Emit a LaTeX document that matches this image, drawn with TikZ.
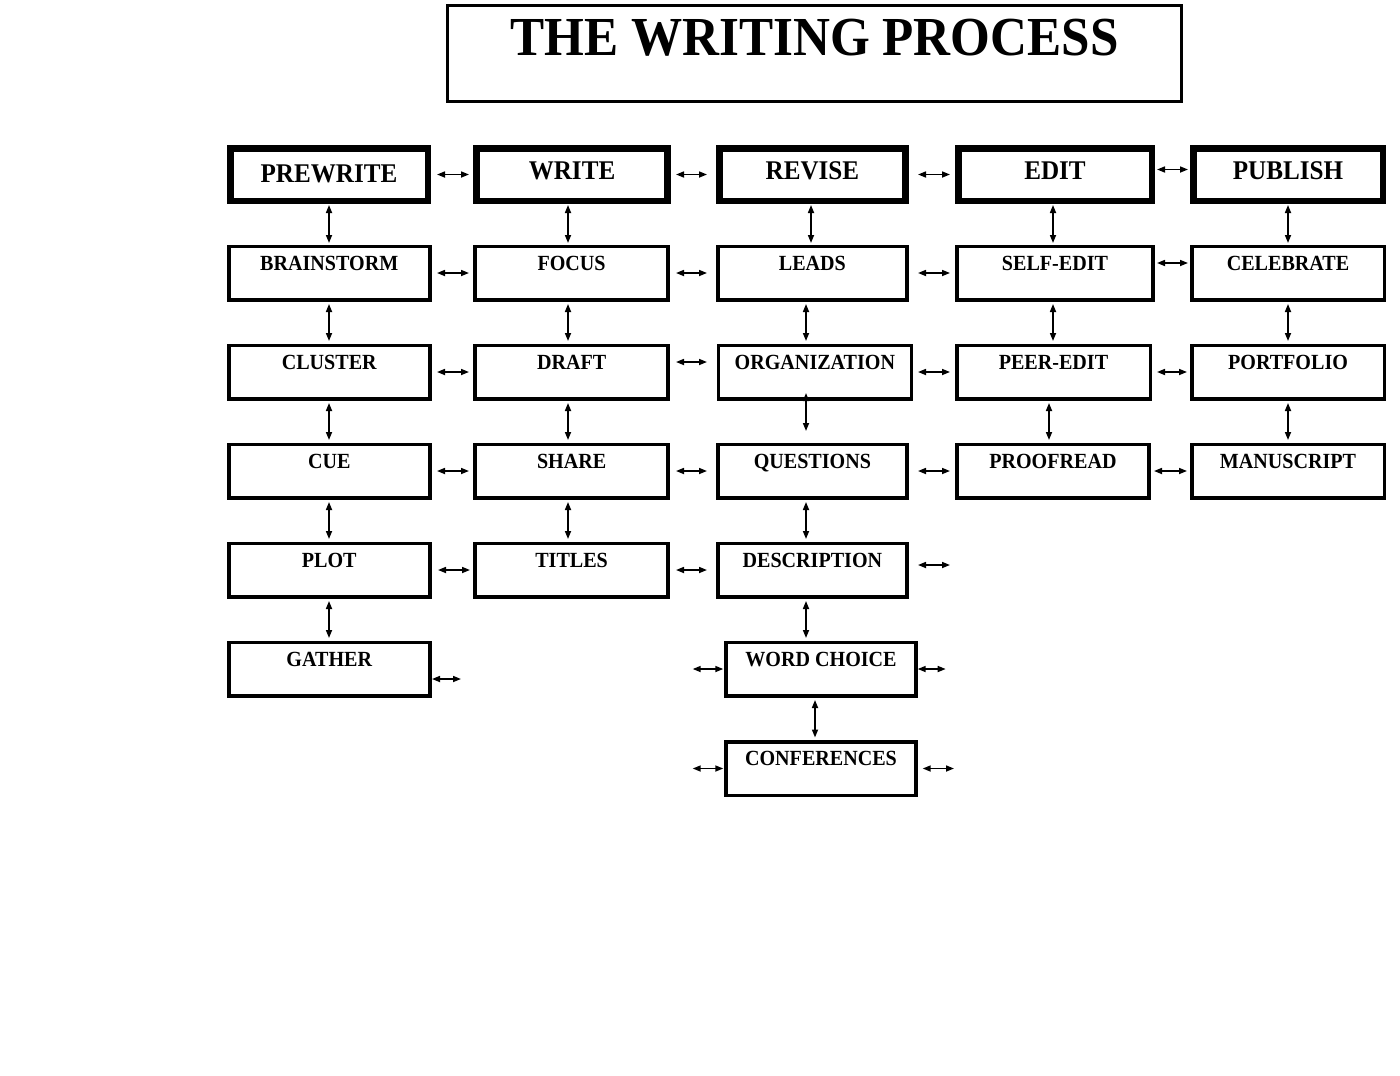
\documentclass[tikz,border=0pt]{standalone}
\usepackage{fontspec}
\setmainfont{Liberation Serif}[FakeStretch=0.93]
\usetikzlibrary{arrows.meta,calc}
\begin{document}
\begin{tikzpicture}[x=1pt,y=1pt,
  titlebox/.style={draw, line width=3pt, inner sep=0pt, minimum width=734pt,
    text height=49.5pt, text depth=46.5pt, font=\fontsize{55}{60}\selectfont\bfseries},
  headbox/.style={draw, line width=6.5pt, inner sep=0pt,
    text height=31.25pt, text depth=21.25pt, font=\fontsize{27}{30}\selectfont\bfseries},
  itembox/.style={draw, line width=3.5pt, inner sep=0pt,
    text height=23.75pt, text depth=29.75pt, font=\fontsize{21.6}{25}\selectfont\bfseries},
  arr/.style={{Triangle[length=8pt,width=6pt]}-{Triangle[length=8pt,width=6pt]}, line width=1.6pt},
  varr/.style={arr, shorten <=2.5pt, shorten >=2.5pt},
  harr/.style={arr, shorten <=1pt, shorten >=1.5pt}
]
\useasboundingbox[fill=white] (0,0) rectangle (1400,-1076);

% title
\node[titlebox] (title) at (814.5,-53.5) {THE WRITING PROCESS};

% header row
\node[headbox, minimum width=197.5pt, text height=34.5pt, text depth=18pt] (prewrite) at (329,-174.5) {PREWRITE};
\node[headbox, minimum width=191pt] (write) at (572,-174.5) {WRITE};
\node[headbox, minimum width=186.25pt] (revise) at (812.4,-174.5) {REVISE};
\node[headbox, minimum width=193.5pt] (edit) at (1055,-174.5) {EDIT};
\node[headbox, minimum width=189.5pt] (publish) at (1288,-174.5) {PUBLISH};

% row 1
\node[itembox, minimum width=201pt] (brainstorm) at (329.25,-273) {BRAINSTORM};
\node[itembox, minimum width=193.25pt] (focus) at (571.6,-273) {FOCUS};
\node[itembox, minimum width=189.25pt] (leads) at (812.4,-273) {LEADS};
\node[itembox, minimum width=196pt] (selfedit) at (1055,-273) {SELF-EDIT};
\node[itembox, minimum width=192.5pt] (celebrate) at (1288,-273) {CELEBRATE};

% row 2
\node[itembox, minimum width=201pt] (cluster) at (329.25,-372) {CLUSTER};
\node[itembox, minimum width=193.25pt] (draft) at (571.6,-372) {DRAFT};
\node[itembox, minimum width=192.75pt] (organization) at (814.9,-372) {ORGANIZATION};
\node[itembox, minimum width=193.5pt] (peeredit) at (1053.5,-372) {PEER-EDIT};
\node[itembox, minimum width=192.5pt] (portfolio) at (1288,-372) {PORTFOLIO};

% row 3
\node[itembox, minimum width=201pt] (cue) at (329.25,-471) {CUE};
\node[itembox, minimum width=193.25pt] (share) at (571.6,-471) {SHARE};
\node[itembox, minimum width=189.25pt] (questions) at (812.4,-471) {QUESTIONS};
\node[itembox, minimum width=192.25pt] (proofread) at (1052.9,-471) {PROOFREAD};
\node[itembox, minimum width=192.5pt] (manuscript) at (1288,-471) {MANUSCRIPT};

% row 4
\node[itembox, minimum width=201pt] (plot) at (329.25,-570) {PLOT};
\node[itembox, minimum width=193.25pt] (titles) at (571.6,-570) {TITLES};
\node[itembox, minimum width=189.25pt] (description) at (812.4,-570) {DESCRIPTION};

% row 5
\node[itembox, minimum width=201pt] (gather) at (329.25,-669) {GATHER};
\node[itembox, minimum width=190pt] (wordchoice) at (821,-669) {WORD CHOICE};

% row 6
\node[itembox, minimum width=190pt] (conferences) at (821,-768.5) {CONFERENCES};

% free ends
\coordinate (descR) at (950,-565);
\coordinate (gatherR) at (461,-679);
\coordinate (wcL) at (692.7,-669);
\coordinate (wcR) at (945.7,-669);
\coordinate (confL) at (692.7,-768.5);
\coordinate (confR) at (954,-768.5);

% horizontal connectors
\draw[arr] (prewrite.east -| 437,0) -- (write.west -| 469,0);
\draw[arr] (write.east -| 676,0) -- (revise.west -| 707,0);
\draw[arr] (revise.east -| 918,0) -- (edit.west -| 950,0);
\draw[arr] ($(edit.east -| 1157,0)+(0,5)$) -- ($(publish.west -| 1188,0)+(0,5)$);

\draw[arr] (brainstorm.east -| 437,0) -- (focus.west -| 469,0);
\draw[arr] (focus.east -| 676,0) -- (leads.west -| 707,0);
\draw[arr] (leads.east -| 918,0) -- (selfedit.west -| 950,0);
\draw[arr] ($(selfedit.east -| 1157,0)+(0,10)$) -- ($(celebrate.west -| 1188,0)+(0,10)$);

\draw[arr] (cluster.east -| 437,0) -- (draft.west -| 469,0);
\draw[arr] ($(draft.east -| 676,0)+(0,10)$) -- ($(organization.west -| 707,0)+(0,10)$);
\draw[arr] (organization.east -| 918,0) -- (peeredit.west -| 950,0);
\draw[arr] (peeredit.east -| 1157,0) -- (portfolio.west -| 1187,0);

\draw[arr] (cue.east -| 437,0) -- (share.west -| 469,0);
\draw[arr] (share.east -| 676,0) -- (questions.west -| 707,0);
\draw[arr] (questions.east -| 918,0) -- (proofread.west -| 950,0);
\draw[arr] (proofread.east -| 1154,0) -- (manuscript.west -| 1187,0);

\draw[arr] (plot.east -| 438,0) -- (titles.west -| 470,0);
\draw[arr] (titles.east -| 676,0) -- (description.west -| 707,0);
\draw[arr] (descR -| 918,0) -- (descR);

\draw[arr] (gatherR -| 432,0) -- (gatherR);
\draw[arr] (wcL) -- (wordchoice.west -| 723.3,0);
\draw[arr] (wordchoice.east -| 917.7,0) -- (wcR);
\draw[arr] (confL) -- (conferences.west -| 723.3,0);
\draw[arr] (conferences.east -| 922.7,0) -- (confR);

% vertical connectors
\draw[harr] (prewrite.south -| 329,0) -- (brainstorm.north -| 329,0);
\draw[harr] (write.south -| 568,0) -- (focus.north -| 568,0);
\draw[harr] (revise.south -| 811,0) -- (leads.north -| 811,0);
\draw[harr] (edit.south -| 1053,0) -- (selfedit.north -| 1053,0);
\draw[harr] (publish.south -| 1288,0) -- (celebrate.north -| 1288,0);

\draw[varr] (brainstorm.south -| 329,0) -- (cluster.north -| 329,0);
\draw[varr] (focus.south -| 568,0) -- (draft.north -| 568,0);
\draw[varr] (leads.south -| 806,0) -- (organization.north -| 806,0);
\draw[varr] (selfedit.south -| 1053,0) -- (peeredit.north -| 1053,0);
\draw[varr] (celebrate.south -| 1288,0) -- (portfolio.north -| 1288,0);

\draw[varr] (cluster.south -| 329,0) -- (cue.north -| 329,0);
\draw[varr] (draft.south -| 568,0) -- (share.north -| 568,0);
\draw[arr, shorten <=-7.5pt, shorten >=11.5pt] (organization.south -| 806,0) -- (questions.north -| 806,0);
\draw[varr] (peeredit.south -| 1049,0) -- (proofread.north -| 1049,0);
\draw[varr] (portfolio.south -| 1288,0) -- (manuscript.north -| 1288,0);

\draw[varr] (cue.south -| 329,0) -- (plot.north -| 329,0);
\draw[varr] (share.south -| 568,0) -- (titles.north -| 568,0);
\draw[varr] (questions.south -| 806,0) -- (description.north -| 806,0);

\draw[varr] (plot.south -| 329,0) -- (gather.north -| 329,0);
\draw[varr] (description.south -| 806,0) -- (wordchoice.north -| 806,0);

\draw[varr] (wordchoice.south -| 815,0) -- (conferences.north -| 815,0);
\end{tikzpicture}
\end{document}
